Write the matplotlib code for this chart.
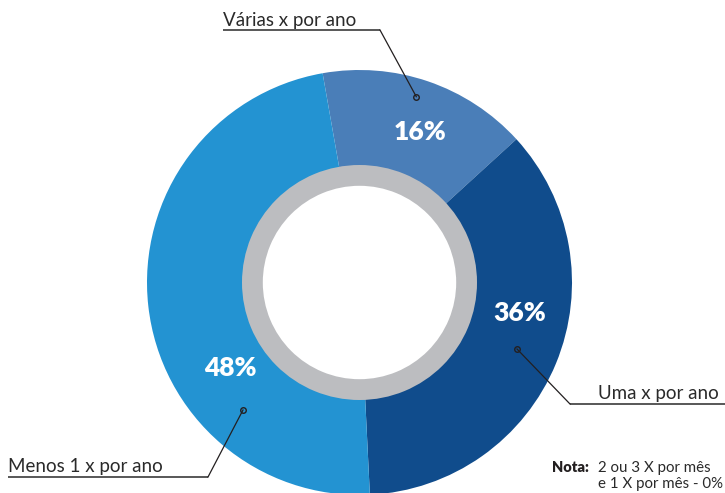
import matplotlib.pyplot as plt

# ---- data ----
categories = ["Várias x por ano", "Uma x por ano", "Menos 1 x por ano"]
values = [16, 36, 48]
pct_labels = [f"{v}%" for v in values]
note_title = "Nota:"
note_lines = ["2 ou 3 X por mês", "e 1 X por mês - 0%"]

# ---- style ----
colors = ["#4A7EB8", "#104C8C", "#2393D2"]
ring_gray = "#BCBDC0"
line_col = "#231F20"
FONT = "Lato"

W, H = 725, 493
R = 212.5
cx, cy = 359.5, 282.5


def P(x, y):
    """pixel (from top-left) -> data coords"""
    return ((x - cx) / R, (cy - y) / R)


fig = plt.figure(figsize=(W / 100, H / 100), dpi=100)
ax = fig.add_axes([0, 0, 1, 1])

ax.pie(values, colors=colors, startangle=100, counterclock=False, radius=1.0,
       wedgeprops=dict(width=0.5, linewidth=0))
ax.pie([1], colors=[ring_gray], radius=117.5 / R,
       wedgeprops=dict(width=(117.5 - 96.7) / R, linewidth=0))

ax.set_xlim(-cx / R, (W - cx) / R)
ax.set_ylim(-(H - cy) / R, cy / R)
ax.set_aspect("equal")
ax.axis("off")

# percentage labels
pct_pos = [(420, 132), (520, 313), (230, 368)]
for lab, (px, py) in zip(pct_labels, pct_pos):
    x, y = P(px, py)
    ax.text(x, y, lab, color="white", fontsize=19, fontweight="heavy",
            family=FONT, ha="center", va="center")

# callouts: (text x, baseline y, underline x0, x1, underline y, dot x, dot y)
callouts = [
    (223, 26, 223, 380, 30, 416.3, 96.7),
    (598, 399, 570, 725, 404, 517, 349),
    (8, 472, 8, 208, 477, 243, 410),
]
for cat, (tx, ty, ux0, ux1, uy, dx, dy) in zip(categories, callouts):
    x, y = P(tx, ty)
    ax.text(x, y, cat, fontsize=13.5, family=FONT, color="#2a2a2a",
            ha="left", va="baseline")
    a, b = P(ux0, uy)
    c, d = P(ux1, uy)
    ax.plot([a, c], [b, d], color="#4a4a4a", lw=1.3, solid_capstyle="butt")
    # diagonal leader from underline end nearest the chart
    ex = ux1 if ux1 < 600 else ux0
    e, f = P(ex, uy)
    g, h = P(dx, dy)
    ax.plot([e, g], [f, h], color=line_col, lw=0.9)
    ax.plot([g], [h], marker="o", ms=4.0, mfc="none", mec=line_col, mew=1.0)

# note
x, y = P(552, 468)
ax.text(x, y, note_title, fontsize=10.5, fontweight="heavy", family=FONT,
        color="#231F20", ha="left", va="center")
for i, line in enumerate(note_lines):
    x, y = P(598, 468 + 16 * i)
    ax.text(x, y, line, fontsize=10.8, family=FONT, color="#2a2a2a",
            ha="left", va="center")

fig.savefig("out.png", dpi=100)
